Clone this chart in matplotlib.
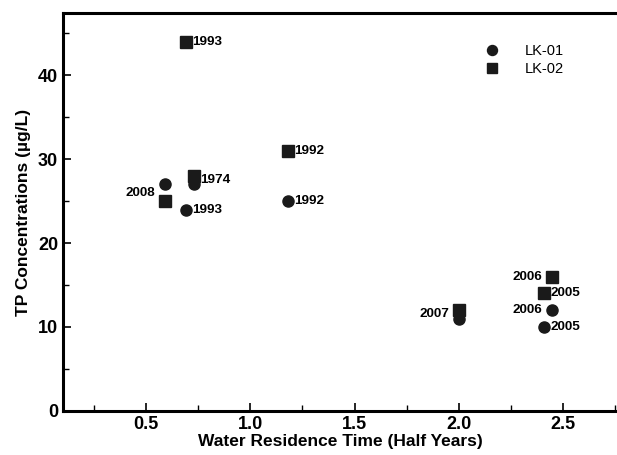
import matplotlib
matplotlib.use("Agg")
import matplotlib.pyplot as plt

plt.rcParams['font.family'] = ['Liberation Sans', 'DejaVu Sans']

# LK-01 (circles)
lk01_x = [0.59, 0.69, 0.73, 1.18, 2.00, 2.45, 2.41]
lk01_y = [27, 24, 27, 25, 11, 12, 10]
lk01_lab = ['', '1993', '', '1992', '', '2006', '2005']

# LK-02 (squares)
lk02_x = [0.69, 0.59, 0.73, 1.18, 2.00, 2.45, 2.41]
lk02_y = [44, 25, 28, 31, 12, 16, 14]
lk02_lab = ['1993', '', '', '1992', '', '2006', '2005']

# labels shared by a pair of overlapping points: (x, y, text, side)
pair_lab = [(0.59, 26, '2008', 'left'), (0.73, 27.5, '1974', 'right'),
            (2.00, 11.5, '2007', 'left')]

left_side = {'2006'}

fig = plt.figure(figsize=(6.17, 4.55), dpi=100)
ax = fig.add_axes([0.102, 0.097, 0.898, 0.874])

ax.plot(lk01_x, lk01_y, 'o', color='#1a1a1a', ms=8, ls='none', label='LK-01')
ax.plot(lk02_x, lk02_y, 's', color='#1a1a1a', ms=8, ls='none', label='LK-02')

def put(x, y, t, side):
    if side == 'left':
        ax.annotate(t, (x, y), xytext=(-7, 0), textcoords='offset points',
                    ha='right', va='center', fontsize=9.7, fontweight='bold')
    else:
        ax.annotate(t, (x, y), xytext=(4.5, 0), textcoords='offset points',
                    ha='left', va='center', fontsize=9.7, fontweight='bold')

for x, y, t in zip(lk01_x + lk02_x, lk01_y + lk02_y, lk01_lab + lk02_lab):
    if t:
        put(x, y, t, 'left' if t in left_side else 'right')
for x, y, t, s in pair_lab:
    put(x, y, t, s)

ax.set_xlim(0.1, 2.76)
ax.set_ylim(0, 47.4)
ax.set_xticks([0.5, 1.0, 1.5, 2.0, 2.5])
ax.set_xticks([0.25, 0.75, 1.25, 1.75, 2.25, 2.75], minor=True)
ax.set_yticks([0, 10, 20, 30, 40])
ax.set_yticks([5, 15, 25, 35, 45], minor=True)
ax.set_yticklabels(['0', '10', '20', '30', '40'])
ax.tick_params(direction='in', which='major', length=6, width=1.2, labelsize=13)
ax.tick_params(direction='in', which='minor', length=4, width=1)
for lab in ax.get_xticklabels() + ax.get_yticklabels():
    lab.set_fontweight('bold')

for s in ['left', 'bottom', 'top']:
    ax.spines[s].set_linewidth(2.2)
ax.spines['right'].set_visible(False)

ax.set_xlabel('Water Residence Time (Half Years)', fontsize=12.5, fontweight='bold', labelpad=1)
ax.set_ylabel('TP Concentrations (µg/L)', fontsize=12.5, fontweight='bold', labelpad=5)

ax.legend(loc='upper left', bbox_to_anchor=(0.725, 0.955), frameon=False,
          fontsize=10.5, handletextpad=1.2, labelspacing=0.25, markerscale=0.9)

fig.savefig('out.png', dpi=100)
